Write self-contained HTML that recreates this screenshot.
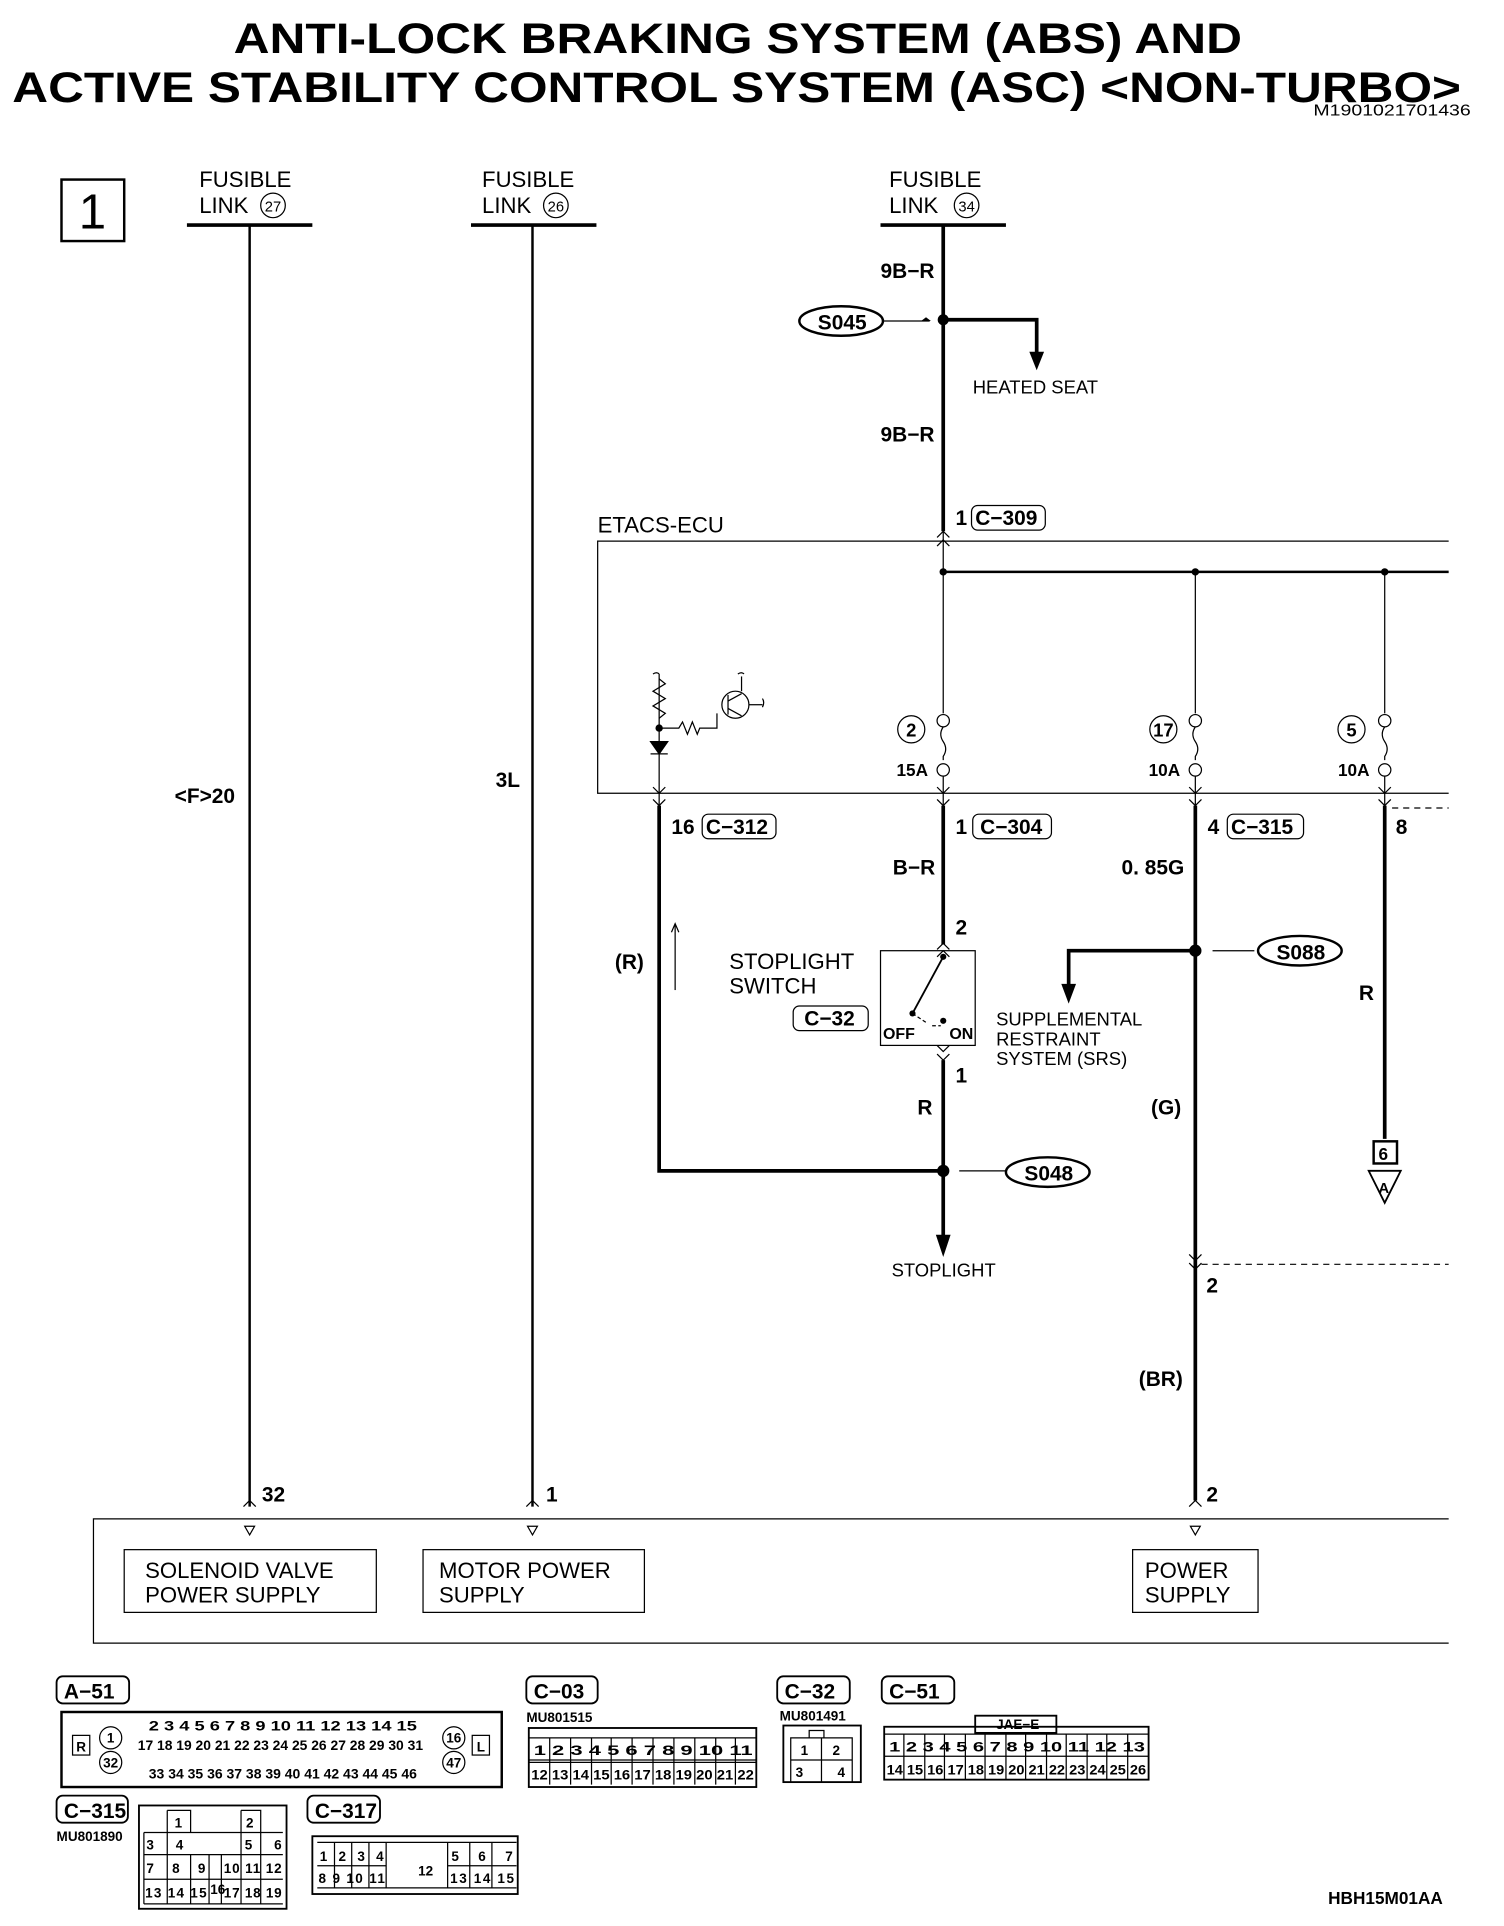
<!DOCTYPE html>
<html><head><meta charset="utf-8"><style>
html,body{margin:0;padding:0;background:#fff;}
svg{display:block}
text{font-family:"Liberation Sans",sans-serif;fill:#000}
.b{font-weight:bold}
</style></head><body>
<svg width="1504" height="1926" viewBox="0 0 1223 1566" preserveAspectRatio="none" xmlns="http://www.w3.org/2000/svg">
<rect width="1223" height="1566" fill="#fff"/>
<text x="600" y="43" font-size="35" class="b" text-anchor="middle" textLength="820" lengthAdjust="spacingAndGlyphs">ANTI-LOCK BRAKING SYSTEM (ABS) AND</text>
<text x="10" y="83" font-size="35" class="b" textLength="1178" lengthAdjust="spacingAndGlyphs">ACTIVE STABILITY CONTROL SYSTEM (ASC) &lt;NON-TURBO&gt;</text>
<text x="1068" y="94" font-size="13" textLength="128" lengthAdjust="spacingAndGlyphs">M1901021701436</text>

<g fill="none" stroke="#000">
<rect x="50" y="146" width="51" height="50" stroke-width="2"/>
<line x1="152" y1="183" x2="254" y2="183" stroke-width="3"/>
<line x1="383" y1="183" x2="485" y2="183" stroke-width="3"/>
<line x1="716" y1="183" x2="818" y2="183" stroke-width="3"/>
<line x1="203" y1="183" x2="203" y2="1225" stroke-width="2"/>
<line x1="433" y1="183" x2="433" y2="1225" stroke-width="2"/>
<line x1="767" y1="183" x2="767" y2="432" stroke-width="3"/>
<polyline points="767,260 843,260 843,290" stroke-width="3"/>
<line x1="718" y1="261" x2="756" y2="261" stroke-width="1"/>
<ellipse cx="684" cy="261" rx="34" ry="12" stroke-width="2"/>
<polyline points="1178,440 486,440 486,645 1178,645" stroke-width="1"/>
<line x1="767" y1="432" x2="767" y2="580" stroke-width="1"/>
<line x1="767" y1="465" x2="1178" y2="465" stroke-width="2"/>
<line x1="972" y1="465" x2="972" y2="580" stroke-width="1"/>
<line x1="1126" y1="465" x2="1126" y2="580" stroke-width="1"/>
<g stroke-width="1">
<circle cx="767" cy="586" r="5"/><circle cx="767" cy="626" r="5"/>
<path d="M767,591 q-4,6 0,12 q4,6 0,12 v3"/>
<line x1="767" y1="631" x2="767" y2="655"/>
<circle cx="972" cy="586" r="5"/><circle cx="972" cy="626" r="5"/>
<path d="M972,591 q-4,6 0,12 q4,6 0,12 v3"/>
<line x1="972" y1="631" x2="972" y2="655"/>
<circle cx="1126" cy="586" r="5"/><circle cx="1126" cy="626" r="5"/>
<path d="M1126,591 q-4,6 0,12 q4,6 0,12 v3"/>
<line x1="1126" y1="631" x2="1126" y2="655"/>
<circle cx="741" cy="593" r="11"/><circle cx="946" cy="593" r="11"/><circle cx="1099" cy="593" r="11"/>
<line x1="536" y1="548" x2="536" y2="655"/>
<path d="M536,552 l5,4 l-10,6 l10,6 l-10,6 l10,6 l-5,4"/>
<path d="M536,592 h16 l3,-5 l4,10 l4,-10 l4,10 l2,-5 h14 v-12"/>
<circle cx="598" cy="573" r="11"/>
<line x1="592" y1="565" x2="592" y2="581"/>
<line x1="592" y1="570" x2="603" y2="564"/><line x1="592" y1="576" x2="603" y2="582"/>
<line x1="603" y1="562" x2="603" y2="550"/><line x1="609" y1="573" x2="620" y2="573"/>
<path d="M600,548 q3,-2 5,0 M620,568 q2,3 0,7 M531,548 q3,-2 5,0"/>
</g>
<circle cx="536" cy="592" r="2.5" fill="#000"/>
<path d="M529,603 h14 l-7,10 z" fill="#000" stroke-width="1"/>
<line x1="529" y1="613" x2="543" y2="613" stroke-width="1"/>
<g stroke-width="1">
<path d="M762,437 l5,-5 l5,5 M762,444 l5,-5 l5,5"/>
<path d="M531,640 l5,5 l5,-5 M531,650 l5,5 l5,-5"/>
<path d="M762,640 l5,5 l5,-5 M762,650 l5,5 l5,-5"/>
<path d="M967,640 l5,5 l5,-5 M967,650 l5,5 l5,-5"/>
<path d="M1121,640 l5,5 l5,-5 M1121,650 l5,5 l5,-5"/>
<path d="M762,772 l5,-5 l5,5 M762,778 l5,-5 l5,5"/>
<path d="M762,850 l5,5 l5,-5 M762,857 l5,5 l5,-5"/>
<path d="M967,1020 l5,5 l5,-5 M967,1027 l5,5 l5,-5"/>
<path d="M198,1225 l5,-5 l5,5 M428,1225 l5,-5 l5,5 M967,1225 l5,-5 l5,5"/>
<path d="M199,1241 h8 l-4,7 z M429,1241 h8 l-4,7 z M968,1241 h8 l-4,7 z"/>
</g>
<polyline points="536,655 536,952 767,952" stroke-width="3"/>
<line x1="767" y1="655" x2="767" y2="768" stroke-width="3"/>
<line x1="767" y1="862" x2="767" y2="1010" stroke-width="3"/>
<line x1="972" y1="655" x2="972" y2="1220" stroke-width="3"/>
<line x1="1126" y1="655" x2="1126" y2="926" stroke-width="3"/>
<line x1="1132" y1="657" x2="1178" y2="657" stroke-width="1" stroke-dasharray="5,4"/>
<line x1="977" y1="1028" x2="1178" y2="1028" stroke-width="1" stroke-dasharray="5,4"/>
<line x1="549" y1="805" x2="549" y2="752" stroke-width="1"/>
<path d="M546,758 l3,-7 l3,7" stroke-width="1"/>
<rect x="716" y="773" width="77" height="77" stroke-width="1"/>
<line x1="767" y1="778" x2="742" y2="824" stroke-width="1.5"/>
<path d="M742,824 l12,8 M758,834 h7" stroke-width="1" stroke-dasharray="3,2"/>
<polyline points="972,773 869,773 869,805" stroke-width="3"/>
<line x1="986" y1="773" x2="1020" y2="773" stroke-width="1"/>
<ellipse cx="1057" cy="773" rx="34" ry="12" stroke-width="2"/>
<line x1="780" y1="952" x2="818" y2="952" stroke-width="1"/>
<ellipse cx="852" cy="953" rx="34" ry="12" stroke-width="2"/>
<rect x="1117" y="928" width="19" height="18" stroke-width="2"/>
<path d="M1113,952 h26 l-13,26 z" stroke-width="1.5"/>
<polyline points="1178,1235 76,1235 76,1336 1178,1336" stroke-width="1"/>
<rect x="101" y="1260" width="205" height="51" stroke-width="1"/>
<rect x="344" y="1260" width="180" height="51" stroke-width="1"/>
<rect x="921" y="1260" width="102" height="51" stroke-width="1"/>
<circle cx="222" cy="167" r="10" stroke-width="1"/>
<circle cx="452" cy="167" r="10" stroke-width="1"/>
<circle cx="786" cy="167" r="10" stroke-width="1"/>
</g>
<g fill="#000">
<circle cx="767" cy="260" r="4.5"/>
<path d="M837,286 h12 l-6,15 z"/>
<circle cx="767" cy="465" r="3"/><circle cx="972" cy="465" r="3"/><circle cx="1126" cy="465" r="3"/>
<circle cx="972" cy="773" r="5"/>
<path d="M863,800 h12 l-6,16 z"/>
<circle cx="767" cy="952" r="5"/>
<path d="M761,1004 h12 l-6,18 z"/>
<circle cx="742" cy="824" r="2.5"/><circle cx="767" cy="830" r="2.5"/><circle cx="767" cy="778" r="2.5"/>
<path d="M749,261 l8,0 -4,-3 z"/>
</g>
<text x="64" y="186" font-size="40">1</text>
<g font-size="18">
<text x="162" y="152">FUSIBLE</text><text x="162" y="173">LINK</text><text x="222" y="172" font-size="12" text-anchor="middle">27</text>
<text x="392" y="152">FUSIBLE</text><text x="392" y="173">LINK</text><text x="452" y="172" font-size="12" text-anchor="middle">26</text>
<text x="723" y="152">FUSIBLE</text><text x="723" y="173">LINK</text><text x="786" y="172" font-size="12" text-anchor="middle">34</text>
<text x="486" y="433">ETACS-ECU</text>
<text x="593" y="788">STOPLIGHT</text><text x="593" y="808">SWITCH</text>
<text x="118" y="1283">SOLENOID VALVE</text><text x="118" y="1303">POWER SUPPLY</text>
<text x="357" y="1283">MOTOR POWER</text><text x="357" y="1303">SUPPLY</text>
<text x="931" y="1283">POWER</text><text x="931" y="1303">SUPPLY</text>
</g>
<g font-size="15">
<text x="791" y="320">HEATED SEAT</text>
<text x="810" y="834">SUPPLEMENTAL</text><text x="810" y="850">RESTRAINT</text><text x="810" y="866">SYSTEM (SRS)</text>
<text x="725" y="1038">STOPLIGHT</text>
</g>
<g font-size="17" class="b">
<text x="716" y="226">9B−R</text><text x="716" y="359">9B−R</text>
<text x="777" y="427">1</text><text x="793" y="427">C−309</text>
<text x="741" y="599" font-size="15" text-anchor="middle">2</text><text x="946" y="599" font-size="15" text-anchor="middle">17</text><text x="1099" y="599" font-size="15" text-anchor="middle">5</text>
<text x="729" y="631" font-size="14">15A</text><text x="934" y="631" font-size="14">10A</text><text x="1088" y="631" font-size="14">10A</text>
<text x="546" y="678">16</text><text x="574" y="678">C−312</text>
<text x="777" y="678">1</text><text x="797" y="678">C−304</text>
<text x="982" y="678">4</text><text x="1001" y="678">C−315</text>
<text x="1135" y="678">8</text>
<text x="726" y="711">B−R</text><text x="912" y="711">0. 85G</text>
<text x="777" y="760">2</text>
<text x="500" y="788">(R)</text>
<text x="654" y="834">C−32</text>
<text x="718" y="845" font-size="13">OFF</text><text x="772" y="845" font-size="13">ON</text>
<text x="1038" y="780">S088</text><text x="665" y="268">S045</text><text x="833" y="960">S048</text>
<text x="1105" y="813">R</text>
<text x="777" y="880">1</text><text x="746" y="906">R</text><text x="936" y="906">(G)</text>
<text x="1121" y="943" font-size="14">6</text><text x="1121" y="970" font-size="12">A</text>
<text x="981" y="1051">2</text><text x="926" y="1127">(BR)</text>
<text x="142" y="653">&lt;F&gt;20</text><text x="403" y="640">3L</text>
<text x="213" y="1221">32</text><text x="444" y="1221">1</text><text x="981" y="1221">2</text>
</g>
<g fill="none" stroke="#000" stroke-width="1">
<rect x="571" y="662" width="60" height="20" rx="5"/><rect x="791" y="662" width="64" height="20" rx="5"/>
<rect x="998" y="662" width="62" height="20" rx="5"/><rect x="790" y="411" width="60" height="20" rx="5"/>
<rect x="645" y="818" width="61" height="20" rx="5"/>
</g>

<g font-size="17" class="b">
<text x="52" y="1381">A−51</text><text x="434" y="1381">C−03</text><text x="638" y="1381">C−32</text><text x="723" y="1381">C−51</text>
<text x="52" y="1478">C−315</text><text x="256" y="1478">C−317</text>
</g>
<g fill="none" stroke="#000" stroke-width="1.5">
<rect x="46" y="1363" width="59" height="22" rx="5"/><rect x="428" y="1363" width="58" height="22" rx="5"/>
<rect x="632" y="1363" width="59" height="22" rx="5"/><rect x="717" y="1363" width="59" height="22" rx="5"/>
<rect x="46" y="1460" width="58" height="22" rx="5"/><rect x="250" y="1460" width="59" height="22" rx="5"/>
<rect x="50" y="1392" width="358" height="61" stroke-width="2"/>
<rect x="430" y="1405" width="185" height="48"/>
<rect x="637" y="1403" width="63" height="46"/>
<rect x="719" y="1404" width="215" height="43"/>
<rect x="793" y="1395" width="66" height="14"/>
<rect x="113" y="1468" width="120" height="84"/>
<rect x="254" y="1493" width="167" height="47"/>
</g>
<g font-size="11" class="b">
<text x="428" y="1400">MU801515</text><text x="634" y="1399">MU801491</text><text x="46" y="1497">MU801890</text>
<text x="810" y="1406">JAE−E</text>
</g>
<text x="1080" y="1548" font-size="14" class="b">HBH15M01AA</text>
<g font-size="11" class="b" text-anchor="middle">
<g fill="none" stroke="#000" stroke-width="1">
<circle cx="90" cy="1413" r="9"/><circle cx="90" cy="1433" r="9"/><circle cx="369" cy="1413" r="9"/><circle cx="369" cy="1433" r="9"/>
<rect x="59" y="1411" width="14" height="16"/><rect x="384" y="1411" width="14" height="16"/>
</g>
<text x="90" y="1417">1</text><text x="90" y="1437">32</text><text x="369" y="1417">16</text><text x="369" y="1437">47</text>
<text x="66" y="1424">R</text><text x="391" y="1424">L</text>
<text x="230" y="1407" textLength="218" lengthAdjust="spacingAndGlyphs">2 3 4 5 6 7 8 9 10 11 12 13 14 15</text>
<text x="228" y="1423" textLength="232" lengthAdjust="spacingAndGlyphs">17 18 19 20 21 22 23 24 25 26 27 28 29 30 31</text>
<text x="230" y="1446" textLength="218" lengthAdjust="spacingAndGlyphs">33 34 35 36 37 38 39 40 41 42 43 44 45 46</text>
</g>
<g fill="none" stroke="#000" stroke-width="1">
<path d="M430,1413 h185 M430,1431 h185 M430,1433 h185"/>
<path d="M447,1413 v38 M464,1413 v38 M481,1413 v38 M497,1413 v38 M514,1413 v38 M531,1413 v38 M548,1413 v38 M565,1413 v38 M582,1413 v38 M598,1413 v38"/>
<path d="M719,1410 h215 M719,1428 h215"/>
<path d="M735,1410 v37 M752,1410 v37 M768,1410 v37 M785,1410 v37 M801,1410 v37 M818,1410 v37 M834,1410 v37 M851,1410 v37 M867,1410 v37 M884,1410 v37 M900,1410 v37 M917,1410 v37"/>
<path d="M643,1413 h50 v36 h-50 z M668,1413 v36 M643,1431 h50 M658,1413 v-6 h12 v6"/>
<path d="M117,1490 h113 M117,1508 h113 M117,1528 h113 M117,1548 h113 M117,1490 v58 M136,1472 v76 M155,1508 v40 M170,1508 v40 M180,1508 v40 M196,1472 v76 M212,1490 v58 M136,1472 h19 v18 M196,1472 h16 v18"/>
<path d="M258,1498 h162 M258,1517 h56 M364,1517 h56 M258,1535 h162 M272,1498 v37 M286,1498 v37 M300,1498 v37 M314,1498 v37 M364,1498 v37 M382,1498 v37 M400,1498 v37"/>
</g>
<g font-size="11" class="b">
<text x="434" y="1427" textLength="178" lengthAdjust="spacingAndGlyphs">1 2 3 4 5 6 7 8 9 10 11</text>
<text x="432" y="1447" textLength="181" lengthAdjust="spacingAndGlyphs">12 13 14 15 16 17 18 19 20 21 22</text>
<text x="723" y="1424" textLength="208" lengthAdjust="spacingAndGlyphs">1 2 3 4 5 6 7 8 9 10 11 12 13</text>
<text x="721" y="1443" textLength="211" lengthAdjust="spacingAndGlyphs">14 15 16 17 18 19 20 21 22 23 24 25 26</text>
<text x="651" y="1427">1</text><text x="677" y="1427">2</text><text x="647" y="1445">3</text><text x="681" y="1445">4</text>
<text x="142" y="1486">1</text><text x="200" y="1486">2</text>
<text x="119" y="1504" textLength="30">3 4</text><text x="199" y="1504" textLength="30">5 6</text>
<text x="119" y="1523" textLength="48">7 8 9</text><text x="182" y="1523" textLength="47">10 11 12</text>
<text x="118" y="1543" textLength="50">13 14 15</text><text x="171" y="1540">16</text><text x="182" y="1543" textLength="47">17 18 19</text>
<text x="260" y="1513" textLength="52">1 2 3 4</text><text x="367" y="1513" textLength="50">5 6 7</text>
<text x="259" y="1531" textLength="54">8 9 10 11</text><text x="366" y="1531" textLength="52">13 14 15</text>
<text x="340" y="1525">12</text>
</g>
</svg>
</body></html>
